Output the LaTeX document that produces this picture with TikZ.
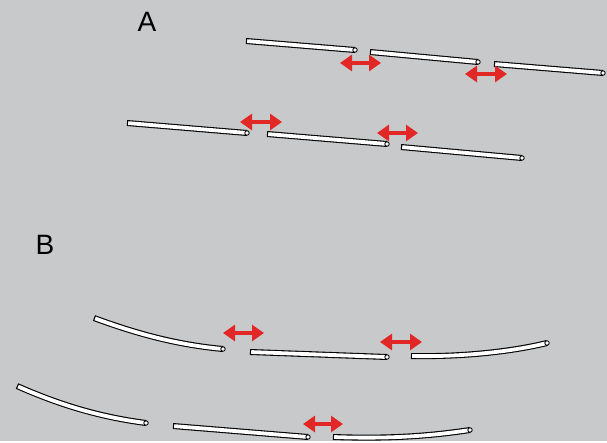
\documentclass[tikz,border=0pt]{standalone}
\usepackage{fontspec}
\setmainfont{Liberation Sans}
\usetikzlibrary{arrows.meta}

\definecolor{bggray}{RGB}{200,201,203}
\definecolor{gapred}{RGB}{226,40,38}

\newcommand{\rod}[2]{%
	\draw [line width=6pt, black] #1;
	\draw [line width=3.8pt, white, shorten <=1.2pt, shorten >=1.2pt] #1;
	\draw [line width=0.9pt, fill=white] #2 circle (2.2);
}

\begin{document}
\begin{tikzpicture}[x=1pt, y=-1pt,
	gaparrow/.style={gapred, line width=4pt, arrows={Triangle[width=16pt,length=12pt]-Triangle[width=16pt,length=12pt]}},
	letter/.style={font=\fontsize{28}{30}\selectfont, inner sep=0pt}]

	\fill [bggray] (0,0) rectangle (607,441);

	\node [letter] (labA) at (147,22) {A};
	\node [letter] (labB) at (45,245) {B};

	% A: straight rods
	\rod{(246,41) -- (355,50)}{(355,50)}
	\rod{(370,52) -- (478,62)}{(478,62)}
	\rod{(494,64) -- (603,73)}{(603,73)}
	\draw [gaparrow] (340,63) -- (381,63);
	\draw [gaparrow] (465,74) -- (507,74);

	\rod{(127,123) -- (247,133)}{(247,133)}
	\rod{(267,134) -- (387,144)}{(387,144)}
	\rod{(401,147) -- (522,158)}{(522,158)}
	\draw [gaparrow] (240,122) -- (282,122);
	\draw [gaparrow] (377,133) -- (418,133);

	% B: bent rods
	\rod{(94,318) .. controls (140,335) and (180,345) .. (223,349)}{(223,349)}
	\rod{(250,352) -- (387,357)}{(387,357)}
	\rod{(411,356) .. controls (460,357) and (510,352) .. (547,343)}{(547,343)}
	\draw [gaparrow] (223,333) -- (264,333);
	\draw [gaparrow] (380,342) -- (422,342);

	\rod{(17,386) .. controls (60,405) and (100,417) .. (146,423)}{(146,423)}
	\rod{(173,426) -- (308,437)}{(308,437)}
	\rod{(333,437) .. controls (390,439) and (430,436) .. (470,430)}{(470,430)}
	\draw [gaparrow] (303,424) -- (343,424);

\end{tikzpicture}
\end{document}
